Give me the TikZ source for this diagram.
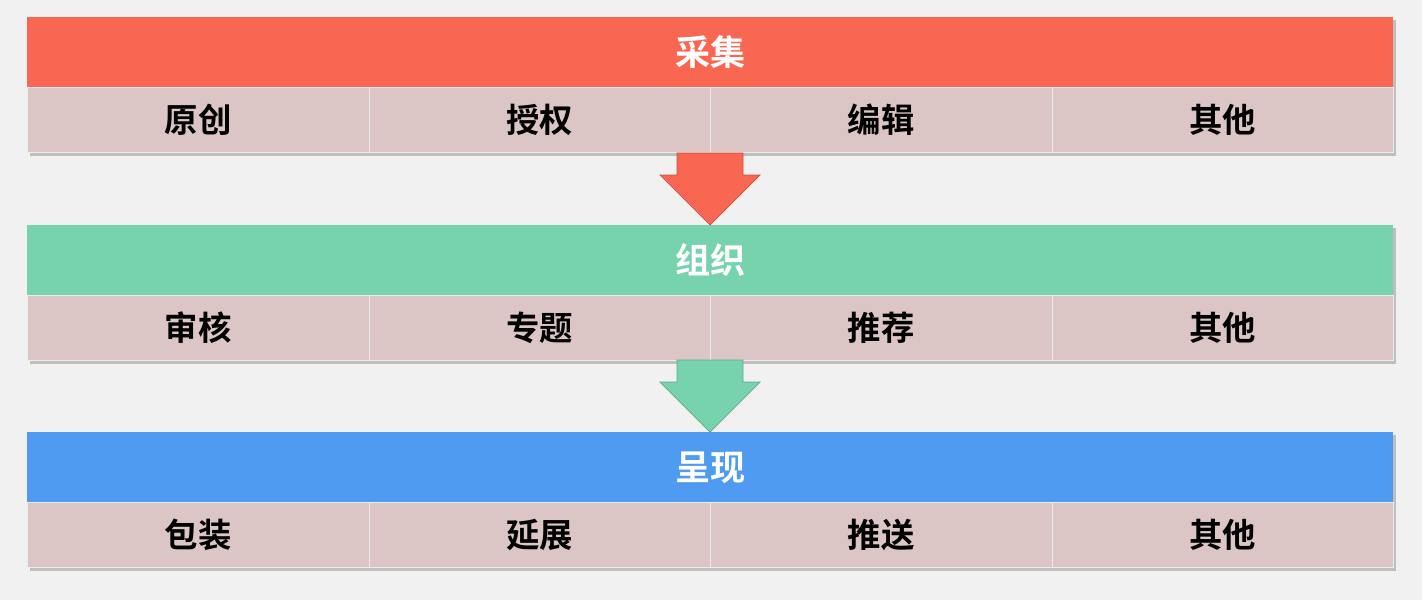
\documentclass[tikz,border=0pt]{standalone}
\usepackage{fontspec}
\newfontfamily\cjk{Noto Sans CJK SC Bold}
\definecolor{bg}{HTML}{F1F1F1}
\definecolor{cred}{HTML}{F96652}
\definecolor{cgreen}{HTML}{76D3AE}
\definecolor{cblue}{HTML}{4F9BF1}
\definecolor{cell}{HTML}{DCC6C5}
\definecolor{cellb}{HTML}{D9C8C5}
\begin{document}
\begin{tikzpicture}[x=0.02cm,y=-0.02cm,
  head/.style={minimum width=1366*0.02cm,minimum height=70*0.02cm,inner sep=0,anchor=north west,text=white,font=\cjk\fontsize{20}{20}\selectfont},
  cellbox/.style={minimum width=341.5*0.02cm,minimum height=65*0.02cm,inner sep=0,anchor=north west,draw=white!85!gray,line width=0.6pt,font=\cjk\fontsize{19}{19}\selectfont}]
\fill[bg] (0,0) rectangle (1422,600);
\useasboundingbox (0,0) rectangle (1422,600);
\foreach \n/\y/\c/\t/\a/\b/\cc/\d in {1/17/cred/采集/原创/授权/编辑/其他, 2/225/cgreen/组织/审核/专题/推荐/其他, 3/432/cblue/呈现/包装/延展/推送/其他}{
  \fill[black!25] (30,\y+3) rectangle (1396,\y+139);
  \node[head,fill=\c] (h\n) at (27,\y) {\t};
  \node[cellbox,fill=cell] (c\n a) at (27,\y+70) {\a};
  \node[cellbox,fill=cell] (c\n b) at (368.5,\y+70) {\b};
  \node[cellbox,fill=cell] (c\n c) at (710,\y+70) {\cc};
  \node[cellbox,fill=cell] (c\n d) at (1051.5,\y+70) {\d};
}
\fill[cred, draw=cred!80!black, line width=0.4pt] (677,153) -- (743,153) -- (743,175) -- (760,175) -- (710,225) -- (660,175) -- (677,175) -- cycle;
\fill[cgreen, draw=cgreen!80!black, line width=0.4pt] (677,360) -- (743,360) -- (743,382) -- (760,382) -- (710,432) -- (660,382) -- (677,382) -- cycle;
\end{tikzpicture}
\end{document}
